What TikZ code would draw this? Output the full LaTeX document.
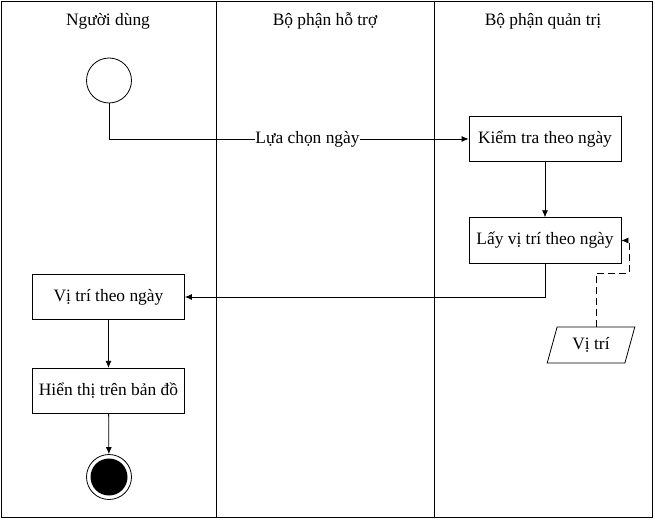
\documentclass[tikz,border=0pt]{standalone}
\usepackage{fontspec}
\setmainfont{Liberation Serif}
\usetikzlibrary{arrows.meta,shapes.geometric}

\begin{document}
\begin{tikzpicture}[x=1pt,y=-1pt,
		lane/.style={line width=1pt},
		txt/.style={font=\fontsize{17.4}{21}\selectfont},
		act/.style={txt,draw,line width=0.8pt,minimum width=152pt,minimum height=45.5pt,inner sep=0pt},
		flow/.style={line width=0.8pt,-{Latex[length=7pt,width=6pt]}}]
		\useasboundingbox (0,0) rectangle (655,521);
		% swimlanes
		\draw[lane] (1.5,1.5) rectangle (652,517.5);
		\draw[lane] (216,1.5) -- (216,517.5);
		\draw[lane] (434,1.5) -- (434,517.5);
		\node[txt] (user) at (108,21) {Người dùng};
		\node[txt] (support) at (325,21) {Bộ phận hỗ trợ};
		\node[txt] (admin) at (543,21) {Bộ phận quản trị};
		% activities
		\node[circle,draw,line width=0.8pt,minimum size=45pt] (start) at (109,80.5) {};
		\node[act] (check) at (545,139) {Kiểm tra theo ngày};
		\node[act] (fetch) at (545,240.5) {Lấy vị trí theo ngày};
		\node[act] (pos) at (108.5,297) {Vị trí theo ngày};
		\node[act] (show) at (108.5,391) {Hiển thị trên bản đồ};
		\node[circle,draw,line width=0.8pt,minimum size=45pt] (end) at (109,477) {};
		\fill (end.center) circle (18.5);
		\node[txt,draw,line width=0.8pt,trapezium,trapezium left angle=70,trapezium right angle=110,
			trapezium stretches=true,minimum width=88pt,minimum height=36pt,inner sep=0pt] (store) at (591,345) {Vị trí};
		\coordinate (dbend) at (629,273);
		% flows
		\draw[flow] (start.south) |- node[txt,fill=white,inner sep=0pt,pos=0.776] {Lựa chọn ngày} (check.west);
		\draw[flow] (check) -- (fetch);
		\draw[flow] (fetch.south) |- (pos.east);
		\draw[flow] (pos) -- (show);
		\draw[flow] (show) -- (end);
		\draw[flow,dash pattern=on 7pt off 4pt] (store.north) ++(5,0) |- (dbend) |- (fetch.east);
\end{tikzpicture}
\end{document}
